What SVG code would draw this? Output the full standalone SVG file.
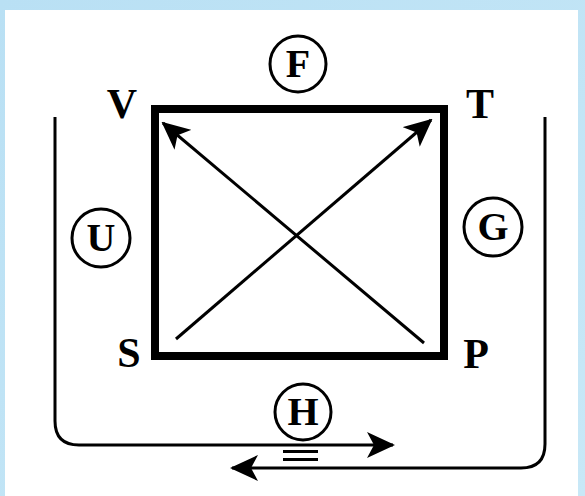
<svg xmlns="http://www.w3.org/2000/svg" width="585" height="496" viewBox="0 0 585 496">
<defs>
<linearGradient id="bg" x1="0" y1="0" x2="1" y2="1">
<stop offset="0" stop-color="#b9e0f4"/>
<stop offset="1" stop-color="#c8e8f7"/>
</linearGradient>
<marker id="ah" viewBox="0 0 28 26" refX="26" refY="13" markerWidth="28" markerHeight="26" markerUnits="userSpaceOnUse" orient="auto">
<path d="M0,0 L28,13 L0,26 L7,13 Z" fill="#000"/>
</marker>
</defs>
<style>
.lbl{font-family:"Liberation Serif","Times New Roman",serif;font-weight:bold;font-size:42px;fill:#000;text-anchor:middle}
.cl{font-size:40px}
.circ{fill:none;stroke:#000;stroke-width:3}
.ln{fill:none;stroke:#000;stroke-width:3}
</style>
<rect x="0" y="0" width="585" height="496" fill="url(#bg)"/>
<rect x="5" y="10" width="573" height="486" fill="#fff"/>

<g id="box">
<rect x="155" y="109" width="289" height="247" fill="none" stroke="#000" stroke-width="8"/>
</g>
<g id="container">
<path class="ln" d="M55,117 V421 Q55,445 79,445"/>
<path class="ln" d="M545,117 V444 Q545,468 521,468"/>
</g>

<g id="connectors">
<line class="ln" x1="176" y1="339" x2="431" y2="120" marker-end="url(#ah)"/>
<line class="ln" x1="424" y1="343" x2="163" y2="123" marker-end="url(#ah)"/>
<line class="ln" x1="79" y1="445" x2="393" y2="445" marker-end="url(#ah)"/>
<line class="ln" x1="521" y1="468" x2="232" y2="468" marker-end="url(#ah)"/>
<rect x="283" y="450" width="35" height="3" fill="#000"/>
<rect x="283" y="458" width="35" height="3" fill="#000"/>
</g>

<g id="V"><text class="lbl" x="122" y="118">V</text></g>
<g id="T"><text class="lbl" x="480" y="118">T</text></g>
<g id="S"><text class="lbl" x="129" y="367">S</text></g>
<g id="P"><text class="lbl" x="476" y="368">P</text></g>

<g id="F"><circle class="circ" cx="298" cy="64" r="28"/><text class="lbl cl" x="298" y="77">F</text></g>
<g id="U"><circle class="circ" cx="101" cy="238" r="29"/><text class="lbl cl" x="101" y="251">U</text></g>
<g id="G"><circle class="circ" cx="493" cy="227" r="29"/><text class="lbl cl" x="493" y="240">G</text></g>
<g id="H"><circle class="circ" cx="303" cy="412" r="28"/><text class="lbl cl" x="303" y="425">H</text></g>
</svg>
